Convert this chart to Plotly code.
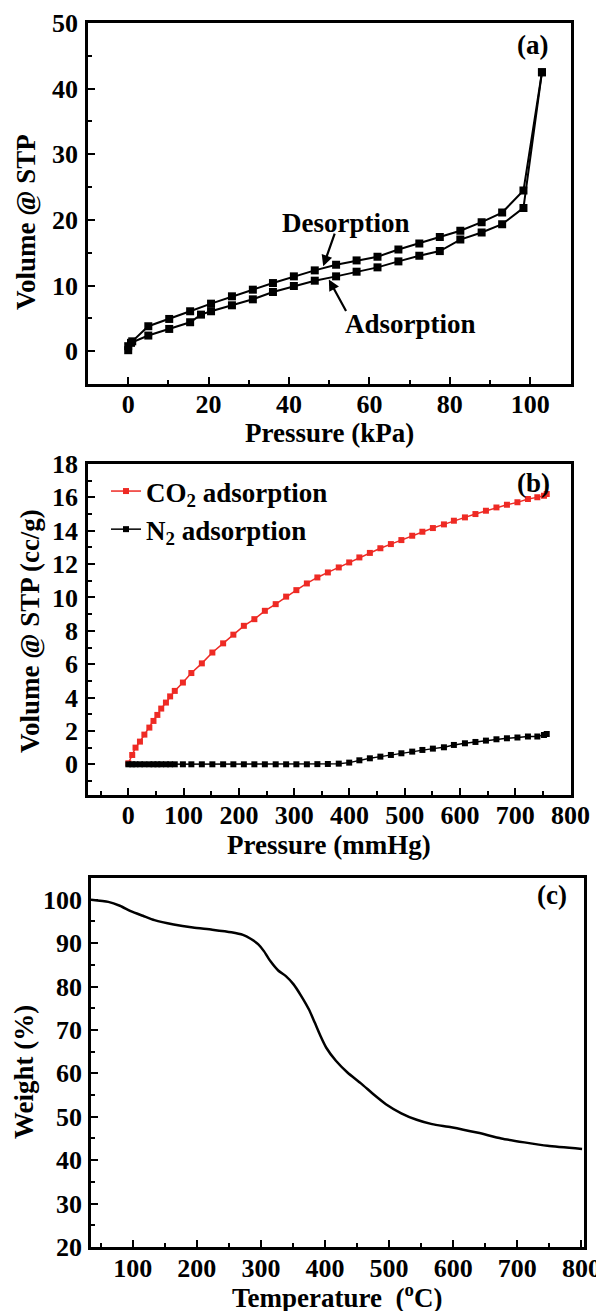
import plotly.graph_objects as go

# ---------------- data ----------------
# (a) N2 isotherm (kPa vs Volume @ STP)
ads_p = [0.0, 0.7, 5.0, 10.2, 15.4, 18.1, 20.6, 25.8, 31.0, 36.0, 41.2, 46.4, 51.7, 56.8,
         62.0, 67.2, 72.4, 77.5, 82.6, 87.9, 93.0, 98.3, 102.9]
ads_v = [0.15, 1.27, 2.38, 3.39, 4.41, 5.57, 6.08, 6.99, 7.90, 9.02, 9.93, 10.74, 11.40, 12.11,
         12.77, 13.68, 14.54, 15.25, 17.0, 18.08, 19.35, 21.83, 42.5]
des_p = [102.9, 98.3, 93.0, 87.9, 82.6, 77.5, 72.4, 67.2, 62.0, 56.8, 51.7, 46.4, 41.2, 36.0,
         31.0, 25.8, 20.6, 15.4, 10.2, 5.0, 1.0, 0.0]
des_v = [42.5, 24.47, 21.12, 19.66, 18.34, 17.38, 16.41, 15.50, 14.39, 13.83, 13.17, 12.31, 11.40, 10.38,
         9.37, 8.36, 7.24, 6.08, 4.91, 3.80, 1.5, 0.76]

# (b) gas adsorption (mmHg vs cc/g)
gas_p = [0, 7, 13, 21, 29, 38, 45.5, 52.5, 59.5, 68, 75.6, 84, 98.7, 114, 133, 152, 171.5, 190,
         209, 228, 247, 266.6, 285.5, 304, 323, 342, 361, 380.7, 399.6, 418, 437, 456, 475, 494,
         513.6, 532, 551, 571, 589, 609, 628, 647, 666, 685, 704, 723, 740, 752, 757]
co2_v = [0.06, 0.56, 1.0, 1.36, 1.78, 2.2, 2.6, 2.96, 3.34, 3.7, 4.07, 4.4, 4.9, 5.47, 6.05, 6.7,
         7.25, 7.77, 8.3, 8.7, 9.2, 9.6, 10.05, 10.44, 10.84, 11.2, 11.5, 11.8, 12.1, 12.4, 12.67,
         12.95, 13.2, 13.44, 13.7, 13.94, 14.16, 14.38, 14.6, 14.8, 15.0, 15.2, 15.4, 15.56, 15.7,
         15.9, 16.0, 16.1, 16.2]
n2_v = [0.0, 0.0, 0.0, 0.0, 0.0, 0.0, 0.0, 0.0, 0.0, 0.0, 0.0, 0.0, 0.0, 0.0, 0.0, 0.0,
        0.0, 0.0, 0.0, 0.0, 0.0, 0.0, 0.0, 0.0, 0.0, 0.01, 0.02, 0.04, 0.1, 0.24, 0.36,
        0.46, 0.56, 0.66, 0.76, 0.86, 0.94, 1.02, 1.16, 1.26, 1.34, 1.42, 1.5, 1.56, 1.6,
        1.66, 1.66, 1.76, 1.82]

# (c) TGA (°C vs weight %)
tga_t = [35, 62, 80, 98, 116, 134, 164, 194, 224, 254, 272, 284, 296, 305, 315, 327, 339, 351,
         363, 375, 384, 393, 402, 417, 435, 456, 477, 495, 519, 543, 567, 597, 639, 675, 711,
         747, 801]
tga_w = [100.0, 99.5, 98.6, 97.3, 96.3, 95.3, 94.3, 93.6, 93.1, 92.5, 91.9, 91.0, 89.7, 88.1,
         85.8, 83.7, 82.4, 80.5, 77.8, 74.7, 71.7, 68.6, 65.9, 62.9, 60.2, 57.7, 55.0, 52.9,
         50.8, 49.3, 48.3, 47.6, 46.3, 45.0, 44.1, 43.3, 42.6]

# ---------------- layout helpers ----------------
W, H = 604, 1311
PAGE_OFF = 8          # the page body adds an 8px offset around the figure
FONT = "Liberation Serif"
TICK = 26
TITLE = 27


def px_x(p):
    return (p - PAGE_OFF) / W


def px_y(p):
    return 1 - (p - PAGE_OFF) / H


fig = go.Figure()

# (a)
fig.add_trace(go.Scatter(x=ads_p, y=ads_v, mode="lines+markers", xaxis="x", yaxis="y",
                         line=dict(color="black", width=2),
                         marker=dict(symbol="square", size=8, color="black"),
                         showlegend=False, name="Adsorption"))
fig.add_trace(go.Scatter(x=des_p, y=des_v, mode="lines+markers", xaxis="x", yaxis="y",
                         line=dict(color="black", width=2),
                         marker=dict(symbol="square", size=8, color="black"),
                         showlegend=False, name="Desorption"))
# (b)
fig.add_trace(go.Scatter(x=gas_p, y=co2_v, mode="lines+markers", xaxis="x2", yaxis="y2",
                         line=dict(color="#ee2a24", width=1.5),
                         marker=dict(symbol="square", size=6, color="#ee2a24"),
                         name="CO<sub>2</sub> adsorption"))
fig.add_trace(go.Scatter(x=gas_p, y=n2_v, mode="lines+markers", xaxis="x2", yaxis="y2",
                         line=dict(color="black", width=1.5),
                         marker=dict(symbol="square", size=6, color="black"),
                         name="N<sub>2</sub> adsorption"))
# (c)
fig.add_trace(go.Scatter(x=tga_t, y=tga_w, mode="lines", xaxis="x3", yaxis="y3",
                         line=dict(color="black", width=2.5, shape="spline", smoothing=0.6),
                         showlegend=False, name="TGA"))


def axis(domain, rng, dtick, minor, anchor, standoff):
    return dict(domain=domain, range=rng, anchor=anchor, dtick=dtick, tick0=0,
                ticks="inside", ticklen=7, tickwidth=2, tickcolor="black",
                minor=dict(ticks="inside", ticklen=4, tickwidth=2, tickcolor="black", dtick=minor, tick0=0),
                showline=True, linecolor="black", linewidth=2.5, mirror=True,
                showgrid=False, zeroline=False, automargin=False,
                ticklabelstandoff=standoff,
                tickfont=dict(family=FONT, size=TICK, color="black", weight="bold"))


xa_dom = [px_x(88), px_x(570.5)]
xc_dom = [px_x(91), px_x(584)]
ya_dom = [px_y(384), px_y(23)]
yb_dom = [px_y(795), px_y(464)]
yc_dom = [px_y(1247), px_y(878)]

fig.update_layout(
    width=W, height=H, margin=dict(l=0, r=0, t=0, b=0, pad=0, autoexpand=False),
    paper_bgcolor="white", plot_bgcolor="white",
    xaxis=axis(xa_dom, [-10, 110], 20, 10, "y", -5),
    yaxis=axis(ya_dom, [-5, 50], 10, 5, "x", 2),
    xaxis2=axis(xa_dom, [-73, 800], 100, 50, "y2", -5),
    yaxis2=axis(yb_dom, [-1.84, 18], 2, 1, "x2", 2),
    xaxis3=axis(xc_dom, [35, 804], 100, 50, "y3", -4),
    yaxis3=axis(yc_dom, [20, 105], 10, 5, "x3", 1),
    legend=dict(x=px_x(106), y=px_y(467), xanchor="left", yanchor="top",
                bgcolor="rgba(0,0,0,0)", borderwidth=0,
                font=dict(family=FONT, size=27, color="black", weight="bold"),
                itemwidth=30, tracegroupgap=0),
)

tf = dict(family=FONT, size=TITLE, color="black", weight="bold")
anns = [
    # axis titles
    dict(text="Pressure (kPa)", x=px_x(329), y=px_y(433)),
    dict(text="Volume @ STP", x=px_x(26), y=px_y(222), textangle=-90),
    dict(text="Pressure (mmHg)", x=px_x(329), y=px_y(845)),
    dict(text="Volume @ STP (cc/g)", x=px_x(30), y=px_y(631), textangle=-90),
    dict(text="Temperature  (<sup>o</sup>C)", x=px_x(337), y=px_y(1296)),
    dict(text="Weight (%)", x=px_x(24), y=px_y(1072), textangle=-90),
    # panel labels
    dict(text="(a)", x=px_x(532), y=px_y(45)),
    dict(text="(b)", x=px_x(533), y=px_y(483)),
    dict(text="(c)", x=px_x(552), y=px_y(895)),
]
for a in anns:
    a.update(xref="paper", yref="paper", showarrow=False, font=tf,
             xanchor="center", yanchor="middle")
    fig.add_annotation(**a)

# (a) in-plot labels and arrows
fig.add_annotation(text="Desorption", x=54.1, y=19.6, xref="x", yref="y", showarrow=False, font=tf)
fig.add_annotation(text="Adsorption", x=70.3, y=4.1, xref="x", yref="y", showarrow=False, font=tf)
fig.add_annotation(text="", x=48.5, y=12.95, xref="x", yref="y", showarrow=True,
                   ax=12, ay=-34, arrowhead=2, arrowsize=1, arrowwidth=2.2, arrowcolor="black")
fig.add_annotation(text="", x=49.9, y=10.93, xref="x", yref="y", showarrow=True,
                   ax=18, ay=33, arrowhead=2, arrowsize=1, arrowwidth=2.2, arrowcolor="black")

fig.write_html("out.html")
